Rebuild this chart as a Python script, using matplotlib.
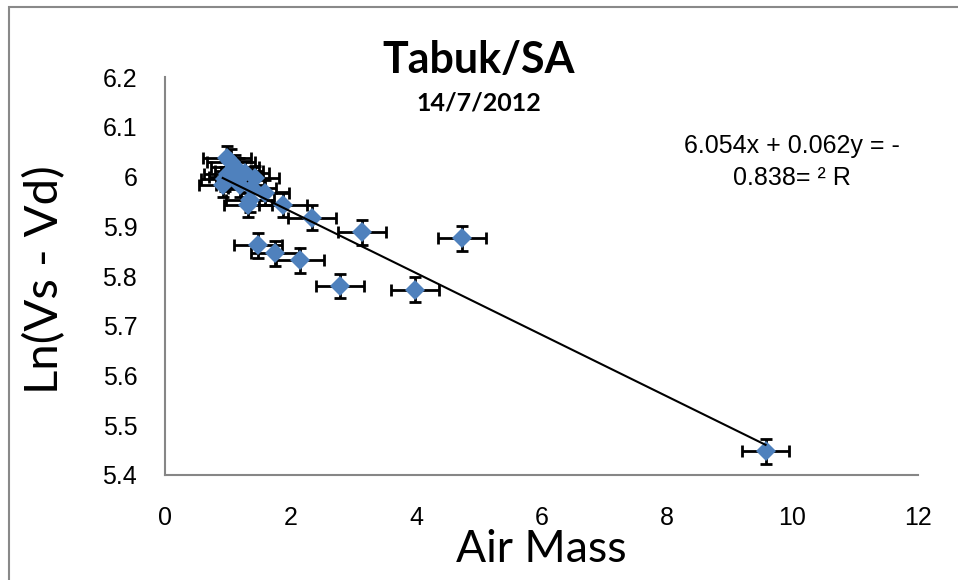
import numpy as np
import matplotlib.pyplot as plt
from matplotlib.patches import Rectangle

# data
air_mass = [0.99, 1.05, 1.12, 1.18, 1.27, 1.00, 0.95, 1.08, 0.92, 1.20, 1.43,
            1.39, 1.59, 1.35, 1.32, 1.88, 2.34, 3.14, 4.73, 1.48, 1.75, 2.15,
            2.79, 3.98, 9.57]
ln_v = [6.037, 6.030, 6.019, 6.012, 6.007, 6.005, 5.995, 6.000, 5.983, 5.983,
        5.997, 5.977, 5.967, 5.953, 5.943, 5.943, 5.917, 5.888, 5.876, 5.862,
        5.846, 5.832, 5.780, 5.772, 5.448]
x_err = 0.38
y_err = 0.025
slope, intercept = -0.062, 6.054
eq_text = "6.054x + 0.062y = -\n0.838= \u00b2 R"

fig = plt.figure(figsize=(9.58, 5.80), dpi=100)
ax = fig.add_axes([165/958, 1-475/580, (918-165)/958, (475-77)/580])

# outer chart border
fig.patches.append(Rectangle((9/958, -0.2), 1.2, 1.2 - 7/580, transform=fig.transFigure,
                             fill=False, edgecolor='#898989', linewidth=1.5))

ax.errorbar(air_mass, ln_v, xerr=x_err, yerr=y_err, fmt='none', ecolor='black',
            elinewidth=2, capsize=4.5, capthick=2, zorder=2)
ax.plot(air_mass, ln_v, 'D', color='#4F81BD', markersize=10, markeredgewidth=0, zorder=3)

xs = np.array([min(air_mass), max(air_mass)])
ax.plot(xs, slope*xs + intercept, color='black', linewidth=1.5, zorder=4)

ax.set_xlim(0, 12)
ax.set_ylim(5.4, 6.2)
ax.set_xticks(np.arange(0, 13, 2))
ax.set_yticks(np.arange(5.4, 6.21, 0.1))
ax.set_yticklabels([f'{v:g}' for v in np.round(np.arange(5.4, 6.21, 0.1), 1)])
ax.tick_params(length=0, labelsize=18)
ax.tick_params(axis='x', pad=22)
ax.tick_params(axis='y', pad=20)
for lab in ax.get_xticklabels() + ax.get_yticklabels():
    lab.set_family('Liberation Sans')
for s in ['top', 'right']:
    ax.spines[s].set_visible(False)
for s in ['left', 'bottom']:
    ax.spines[s].set_color('#868686')
    ax.spines[s].set_linewidth(1.5)

fig.text(0.5, 1-60/580, 'Tabuk/SA', ha='center', va='center', fontsize=31,
         fontweight='bold', family='Lato')
fig.text(0.5, 1-103/580, '14/7/2012', ha='center', va='center', fontsize=18,
         fontweight='bold', family='Lato')
fig.text(792/958, 1-162/580, eq_text, ha='center', va='center', fontsize=18,
         family='Liberation Sans', linespacing=1.45)
fig.text(45/958, 1-280/580, 'Ln(Vs - Vd)', ha='center', va='center', rotation=90,
         fontsize=34, family='Lato')
fig.text(541/958, 1-550/580, 'Air Mass', ha='center', va='center', fontsize=32,
         family='Lato')

fig.savefig('out.png', dpi=100)
